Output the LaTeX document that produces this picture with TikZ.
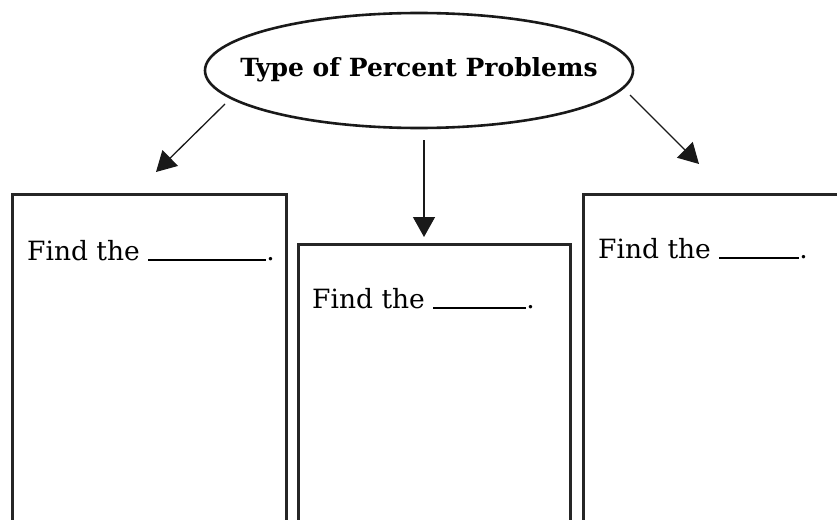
\documentclass[tikz,border=0pt]{standalone}
\usepackage{fontspec}
\setmainfont{DejaVu Serif}
\usetikzlibrary{shapes.geometric,arrows.meta}

\tikzset{
  panel/.style={draw=black!85, line width=2.8pt, anchor=north west, inner sep=0pt},
  prompt/.style={anchor=base west, inner sep=0pt, font=\fontsize{26.5}{30}\selectfont},
  topic/.style={ellipse, draw=black!90, line width=2.6pt, inner sep=0pt,
    minimum width=428pt, minimum height=115pt},
  topictext/.style={anchor=base, inner sep=0pt, font=\fontsize{25}{28}\selectfont\bfseries},
  link/.style={line width=1.3pt, black!90, -{Triangle[length=20pt,width=22pt]}}
}
\newcommand{\blankline}[1]{\rule[-1pt]{#1}{1.8pt}}

\begin{document}
\begin{tikzpicture}[x=1pt, y=-1pt]
  \useasboundingbox (0,0) rectangle (837,519);
  \clip (0,0) rectangle (837,519);

  % title oval and its caption
  \node[topic] (ttl) at (419,70.5) {};
  \node[topictext] (ttltxt) at (419,77) {Type of Percent Problems};

  % three answer panels
  \node[panel, minimum width=274pt, minimum height=327pt] (lbox) at (11,193) {};
  \node[panel, minimum width=272pt, minimum height=277pt] (mbox) at (297,243) {};
  \node[panel, minimum width=300pt, minimum height=327pt] (rbox) at (582,193) {};

  % prompts
  \node[prompt] (ltxt) at (27,260) {Find the \blankline{118pt}.};
  \node[prompt] (mtxt) at (312,308) {Find the \blankline{93pt}.};
  \node[prompt] (rtxt) at (598,258) {Find the \blankline{80pt}.};

  % arrow ends
  \coordinate (ls) at (225,104);
  \coordinate (le) at (156,172);
  \coordinate (ms) at (424,140);
  \coordinate (me) at (424,237);
  \coordinate (rs) at (630,95);
  \coordinate (re) at (699,164);

  \draw[link] (ls) -- (le);
  \draw[link] (ms) -- (me);
  \draw[link] (rs) -- (re);
\end{tikzpicture}
\end{document}
